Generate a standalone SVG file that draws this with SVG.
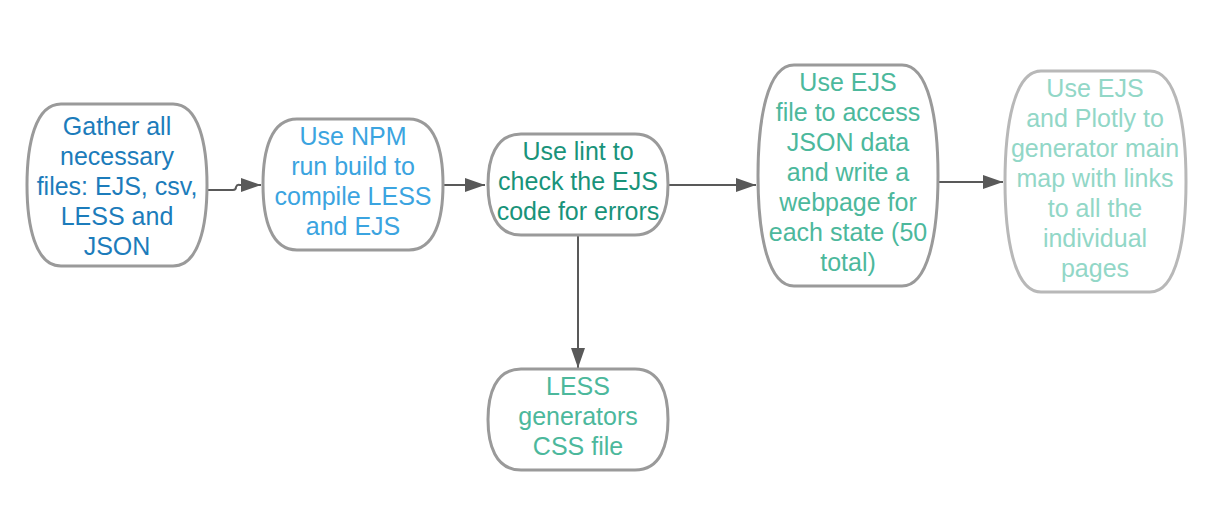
<svg xmlns="http://www.w3.org/2000/svg" width="1213" height="528" viewBox="0 0 1213 528">
<defs>
<style>
.shape{fill:#ffffff;stroke:#9a9a9a;stroke-width:3}
.light{stroke:#b8b8b8}
text{font-family:"Liberation Sans",Arial,sans-serif;font-size:25px;text-anchor:middle}
.c1{fill:#1c7cbb}.c2{fill:#3ba4e0}.c3{fill:#19937a}.c4{fill:#4cb89c}.c5{fill:#92d7c7}
.edge{fill:none;stroke:#595959;stroke-width:2}
</style>
<marker id="arr" viewBox="0 0 20 14" refX="20" refY="7" markerWidth="20" markerHeight="14" markerUnits="userSpaceOnUse" orient="auto">
<path d="M0,0 L20,7 L0,14 Z" fill="#595959"/>
</marker>
</defs>
<rect width="1213" height="528" fill="#ffffff"/>
<g id="connectors">
<path class="edge" d="M208,190 H233 Q236,190 236,187 Q237,184 240,185 H261" marker-end="url(#arr)"/>
<path class="edge" d="M443,185 H485" marker-end="url(#arr)"/>
<path class="edge" d="M668,185 H756" marker-end="url(#arr)"/>
<path class="edge" d="M938,182 H1003" marker-end="url(#arr)"/>
<path class="edge" d="M578,235 V368" marker-end="url(#arr)"/>
</g>
<g id="node1">
<path class="shape" d="M61,104 H173 C199,104 207,145 207,185 C207,225 199,266 173,266 H61 C35,266 27,225 27,185 C27,145 35,104 61,104 Z"/>
<text class="c1"><tspan x="117" y="135">Gather all</tspan><tspan x="117" y="165">necessary</tspan><tspan x="117" y="195">files: EJS, csv,</tspan><tspan x="117" y="225">LESS and</tspan><tspan x="117" y="255">JSON</tspan></text>
</g>
<g id="node2">
<path class="shape" d="M297,119 H409 C435,119 443,150 443,184.5 C443,219 435,250 409,250 H297 C271,250 263,219 263,184.5 C263,150 271,119 297,119 Z"/>
<text class="c2"><tspan x="353" y="145">Use NPM</tspan><tspan x="353" y="175">run build to</tspan><tspan x="353" y="205">compile LESS</tspan><tspan x="353" y="235">and EJS</tspan></text>
</g>
<g id="node3">
<path class="shape" d="M521,134 H635 C661,134 668,160 668,184.5 C668,209 661,235 635,235 H521 C495,235 488,209 488,184.5 C488,160 495,134 521,134 Z"/>
<text class="c3"><tspan x="578" y="160">Use lint to</tspan><tspan x="578" y="190">check the EJS</tspan><tspan x="578" y="220">code for errors</tspan></text>
</g>
<g id="node4">
<path class="shape" d="M794,65 H902 C929,65 938,120 938,175.5 C938,231 929,286 902,286 H794 C767,286 758,231 758,175.5 C758,120 767,65 794,65 Z"/>
<text class="c4"><tspan x="848" y="91">Use EJS</tspan><tspan x="848" y="121">file to access</tspan><tspan x="848" y="151">JSON data</tspan><tspan x="848" y="181">and write a</tspan><tspan x="848" y="211">webpage for</tspan><tspan x="848" y="241">each state (50</tspan><tspan x="848" y="271">total)</tspan></text>
</g>
<g id="node5">
<path class="shape light" d="M1041,71 H1150 C1177,71 1186,126 1186,181.5 C1186,237 1177,292 1150,292 H1041 C1014,292 1005,237 1005,181.5 C1005,126 1014,71 1041,71 Z"/>
<text class="c5"><tspan x="1095" y="97">Use EJS</tspan><tspan x="1095" y="127">and Plotly to</tspan><tspan x="1095" y="157">generator main</tspan><tspan x="1095" y="187">map with links</tspan><tspan x="1095" y="217">to all the</tspan><tspan x="1095" y="247">individual</tspan><tspan x="1095" y="277">pages</tspan></text>
</g>
<g id="node6">
<path class="shape" d="M521,369 H635 C661,369 668,395 668,419.5 C668,444 661,470 635,470 H521 C495,470 488,444 488,419.5 C488,395 495,369 521,369 Z"/>
<text class="c4"><tspan x="578" y="395">LESS</tspan><tspan x="578" y="425">generators</tspan><tspan x="578" y="455">CSS file</tspan></text>
</g>
</svg>
